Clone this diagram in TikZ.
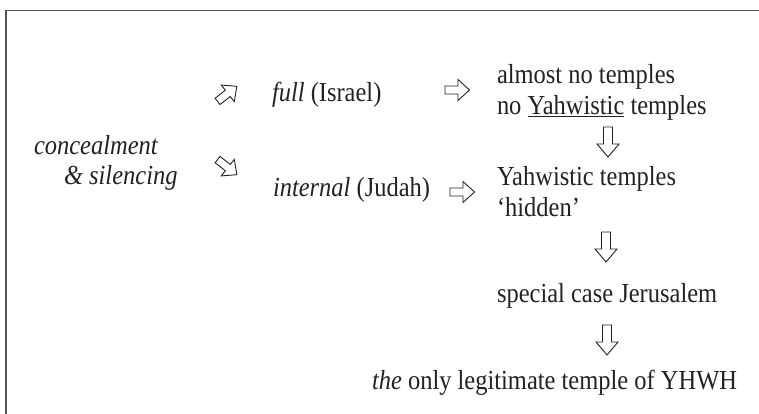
\documentclass[tikz,border=0pt]{standalone}
\usepackage{fontspec}
\setmainfont{Liberation Serif}[FakeStretch=0.89]
\usetikzlibrary{positioning}
\definecolor{txt}{HTML}{222222}
\definecolor{framec}{HTML}{555555}
\tikzset{
  lbl/.style={inner sep=0pt, outer sep=0pt, text=txt, font=\fontsize{27.5}{31}\selectfont, align=left},
  blockarrow/.pic={
    \draw[draw=txt, line width=0.9pt, line join=miter]
      (-12,-4) -- (1,-4) -- (1,-10.5) -- (12.5,0) -- (1,10.5) -- (1,4) -- (-12,4) -- cycle;
  },
  longarrow/.pic={
    \draw[draw=txt, line width=0.9pt, line join=miter]
      (-15,-4.5) -- (2,-4.5) -- (2,-11) -- (15,0) -- (2,11) -- (2,4.5) -- (-15,4.5) -- cycle;
  }
}
\begin{document}
\begin{tikzpicture}[x=1pt,y=-1pt]
\useasboundingbox (0,0) rectangle (759,414);
% frame
\draw[framec, line width=1.5pt] (6,414) -- (6,10.5) -- (759,10.5);
% texts
\node[lbl, anchor=west] (conc) at (34,145) {\itshape concealment};
\node[lbl, anchor=west] (sil) at (64,178) {\itshape\&\ silencing};
\node[lbl, anchor=west] (full) at (272,95) {\textit{full} (Israel)};
\node[lbl, anchor=west] (int) at (273,190) {\textit{internal} (Judah)};
\node[lbl, anchor=west] (nyt) at (497,92) {almost no temples\\no \underline{Yahwistic} temples};
\node[lbl, anchor=west] (yth) at (497,192) {Yahwistic temples\\`hidden'};
\node[lbl, anchor=west] (jer) at (497,296) {special case Jerusalem};
\node[lbl, anchor=east] (leg) at (737,383) {\textit{the} only legitimate temple of YHWH};
% arrows
\pic[rotate=38] at (227,94) {blockarrow};
\pic[rotate=-38] at (227,167) {blockarrow};
\pic at (457,90) {blockarrow};
\pic at (462,192) {blockarrow};
\pic[rotate=-90] at (608,142) {longarrow};
\pic[rotate=-90] at (606,247) {longarrow};
\pic[rotate=-90] at (607,340) {longarrow};
\end{tikzpicture}
\end{document}
